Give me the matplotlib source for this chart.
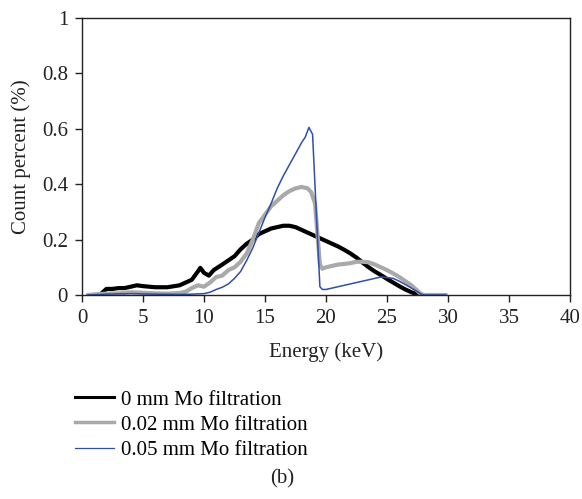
import matplotlib
matplotlib.use("Agg")
import matplotlib.pyplot as plt
from matplotlib.lines import Line2D

plt.rcParams['font.family'] = ['Liberation Serif', 'DejaVu Serif']

# 0 mm Mo filtration
e_0mm = [1.7, 2.0, 2.5, 3, 3.5, 4, 4.5, 5, 6, 7, 8, 8.5, 9, 9.5, 9.7, 10.0, 10.4,
         10.8, 11.5, 12, 12.5, 13, 13.5, 14, 14.5, 15, 15.5, 16, 16.5, 17, 17.5,
         18, 18.5, 19, 19.5, 20, 20.5, 21, 21.5, 22, 22.5, 23, 23.5, 24, 24.5,
         25, 25.5, 26, 26.5, 27, 27.5, 28]
c_0mm = [0.01, 0.022, 0.022, 0.025, 0.025, 0.03, 0.035, 0.032, 0.028, 0.028, 0.035,
         0.045, 0.055, 0.085, 0.098, 0.08, 0.07, 0.09, 0.11, 0.125, 0.14, 0.165,
         0.185, 0.2, 0.22, 0.23, 0.24, 0.245, 0.25, 0.25, 0.245, 0.235, 0.225,
         0.215, 0.205, 0.195, 0.185, 0.175, 0.163, 0.15, 0.135, 0.117, 0.1, 0.085,
         0.072, 0.058, 0.045, 0.032, 0.02, 0.01, 0.002, 0.0]

# 0.02 mm Mo filtration
e_002mm = [0.5, 1, 2, 3, 4, 5, 6, 7, 8, 8.5, 9, 9.5, 10, 10.5, 11, 11.5, 12, 12.5,
           13, 13.5, 14, 14.5, 15, 15.5, 16, 16.5, 17, 17.5, 18, 18.5, 18.8, 19.1,
           19.3, 19.5, 19.7, 20, 20.5, 21, 21.5, 22, 22.5, 23, 23.5, 24, 24.5, 25,
           25.5, 26, 26.5, 27, 27.5, 27.8, 28, 29, 29.8]
c_002mm = [0, 0.002, 0.005, 0.006, 0.01, 0.008, 0.006, 0.005, 0.007, 0.012, 0.025,
           0.035, 0.03, 0.045, 0.065, 0.07, 0.09, 0.1, 0.12, 0.15, 0.2, 0.26, 0.29,
           0.32, 0.34, 0.36, 0.375, 0.385, 0.39, 0.385, 0.37, 0.33, 0.22, 0.11,
           0.095, 0.1, 0.105, 0.11, 0.112, 0.115, 0.12, 0.12, 0.118, 0.11, 0.1,
           0.09, 0.078, 0.065, 0.05, 0.035, 0.015, 0.003, 0.0, 0, 0]

# 0.05 mm Mo filtration
e_005mm = [0.5, 2, 4, 6, 8, 9, 10, 10.5, 11, 11.5, 12, 12.5, 13, 13.5, 14, 14.5, 15,
           15.5, 16, 16.5, 17, 17.5, 18, 18.3, 18.6, 18.9, 19.2, 19.5, 19.7, 20,
           20.5, 21, 21.5, 22, 22.5, 23, 23.5, 24, 24.5, 25, 25.5, 26, 26.5, 27,
           27.5, 27.8, 28, 29, 29.8]
c_005mm = [0, 0.003, 0.005, 0.003, 0.002, 0.003, 0.005, 0.01, 0.02, 0.028, 0.04,
           0.06, 0.085, 0.125, 0.17, 0.225, 0.28, 0.33, 0.385, 0.43, 0.47, 0.51,
           0.55, 0.57, 0.605, 0.58, 0.3, 0.03, 0.02, 0.02, 0.025, 0.03, 0.035, 0.04,
           0.045, 0.05, 0.055, 0.06, 0.065, 0.063, 0.06, 0.05, 0.038, 0.025, 0.012,
           0.003, 0, 0, 0]

labels = ["0 mm Mo filtration", "0.02 mm Mo filtration", "0.05 mm Mo filtration"]
x_ticks = [0, 5, 10, 15, 20, 25, 30, 35, 40]
y_ticks = [0, 0.2, 0.4, 0.6, 0.8, 1]
y_ticklabels = ["0", "0.2", "0.4", "0.6", "0.8", "1"]

col_black = "#000000"
col_gray = "#A9A9A9"
col_blue = "#2F4FA8"
txt_col = '#222222'
fs = 15

fig = plt.figure(figsize=(5.82, 4.99), dpi=100)
ax = fig.add_axes([82 / 582, 1 - 295 / 499, (570 - 82) / 582, (295 - 18) / 499])

ax.plot(e_0mm, c_0mm, color=col_black, lw=3.0, solid_joinstyle='round')
ax.plot(e_002mm, c_002mm, color=col_gray, lw=3.0, solid_joinstyle='round')
ax.plot(e_005mm, c_005mm, color=col_blue, lw=1.1)

ax.set_xlim(0, 40)
ax.set_ylim(0, 1)
ax.set_xticks(x_ticks)
ax.set_yticks(y_ticks)
ax.set_yticklabels(y_ticklabels)
ax.tick_params(direction='out', length=5, width=1, labelsize=fs, colors=txt_col, pad=5)
ax.set_xlabel("Energy (keV)", fontsize=fs, color=txt_col, labelpad=10)
ax.set_ylabel("Count percent (%)", fontsize=fs, color=txt_col, labelpad=8)
for s in ax.spines.values():
    s.set_color(txt_col)
    s.set_linewidth(1.0)

handles = [Line2D([], [], color=col_black, lw=2.2),
           Line2D([], [], color=col_gray, lw=2.5),
           Line2D([], [], color=col_blue, lw=0.9)]
fig.legend(handles, labels, loc='upper left', bbox_to_anchor=(75 / 582, 1 - 390 / 499),
           frameon=False, fontsize=fs, handlelength=1.85, handletextpad=0.35,
           labelspacing=0.27, borderaxespad=0, borderpad=0)

fig.text(282 / 582, 1 - 479 / 499, "(b)", ha='center', va='center', fontsize=fs,
         color=txt_col)

fig.savefig("out.png", dpi=100)
